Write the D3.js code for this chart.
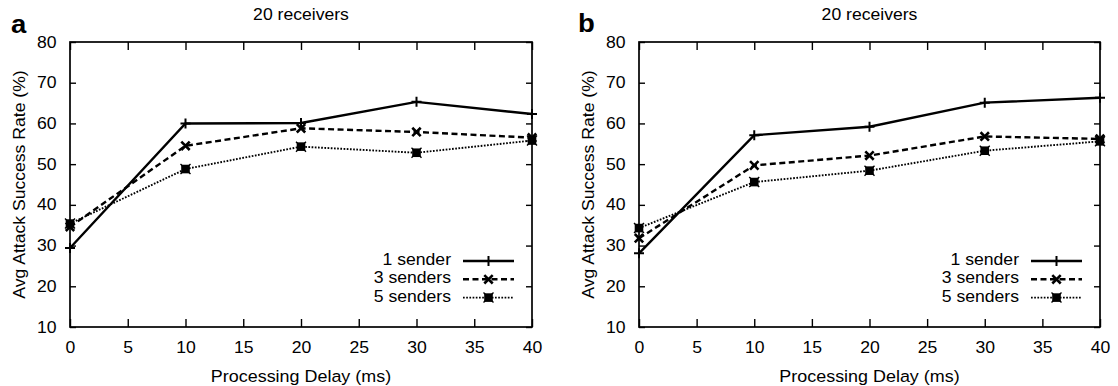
<!DOCTYPE html>
<html><head><meta charset="utf-8">
<script src="https://cdn.jsdelivr.net/npm/d3@7"></script>
<style>
body{margin:0;background:#fff}
text{font-family:"Liberation Sans",Arial,Helvetica,sans-serif;fill:#000}
</style>
</head><body>
<svg id="c" width="1118" height="386"></svg>
<script>
// ---- data ----
const delays = [0, 10, 20, 30, 40];
const xTickValues = [0, 5, 10, 15, 20, 25, 30, 35, 40];
const yTickValues = [10, 20, 30, 40, 50, 60, 70, 80];
const seriesNames = ["1 sender", "3 senders", "5 senders"];
const panelLetters = ["a", "b"];
const panelTitles = ["20 receivers", "20 receivers"];
const xTitle = "Processing Delay (ms)";
const yTitle = "Avg Attack Success Rate (%)";
// panel a
const a1Sender = [29.4, 60.0, 60.1, 65.3, 62.3];
const a3Senders = [34.6, 54.5, 58.8, 57.9, 56.5];
const a5Senders = [35.4, 48.8, 54.3, 52.8, 55.8];
// panel b
const b1Sender = [28.1, 57.1, 59.2, 65.1, 66.3];
const b3Senders = [31.8, 49.7, 52.1, 56.8, 56.2];
const b5Senders = [34.3, 45.6, 48.4, 53.3, 55.6];

// ---- layout ----
const svg = d3.select("#c");
const plotTop = 42, plotBottom = 327;
const STRETCH = 1.1;
const panels = [
  {left: 70, right: 532, letter: panelLetters[0], title: panelTitles[0], letterX: 11, letterY: 33, series: [a1Sender, a3Senders, a5Senders]},
  {left: 639, right: 1100, letter: panelLetters[1], title: panelTitles[1], letterX: 578, letterY: 32, series: [b1Sender, b3Senders, b5Senders]}
];
const styles = [
  {width: 2.4, dash: null, marker: "plus"},
  {width: 2.4, dash: "6,3.5", marker: "x"},
  {width: 1.9, dash: "1.7,1.5", marker: "square"}
];

function stretch(sel) {
  sel.each(function() {
    const t = d3.select(this);
    const x = +(t.attr("x") || 0);
    const prev = t.attr("transform") || "";
    t.attr("transform", `${prev} translate(${x},0) scale(${STRETCH},1) translate(${-x},0)`);
  });
}

function drawMarker(g, type, cx, cy) {
  if (type === "plus") {
    g.append("path").attr("d", `M${cx-5},${cy}H${cx+5}M${cx},${cy-5}V${cy+5}`)
      .attr("stroke", "#000").attr("stroke-width", 2).attr("fill", "none");
  } else if (type === "x") {
    g.append("path").attr("d", `M${cx-4.2},${cy-4.2}L${cx+4.2},${cy+4.2}M${cx-4.2},${cy+4.2}L${cx+4.2},${cy-4.2}`)
      .attr("stroke", "#000").attr("stroke-width", 2.6).attr("fill", "none");
  } else {
    g.append("rect").attr("x", cx-4.3).attr("y", cy-4.3).attr("width", 8.6).attr("height", 8.6)
      .attr("fill", "#000");
    g.append("path").attr("d", `M${cx-5},${cy-5}L${cx+5},${cy+5}M${cx-5},${cy+5}L${cx+5},${cy-5}`)
      .attr("stroke", "#000").attr("stroke-width", 1.4).attr("fill", "none");
  }
}

panels.forEach(p => {
  const x = d3.scaleLinear().domain([0, 40]).range([p.left, p.right]);
  const y = d3.scaleLinear().domain([10, 80]).range([plotBottom, plotTop]);
  const g = svg.append("g");

  // axes (inward ticks, mirrored)
  const ax = g.append("g").attr("transform", `translate(0,${plotBottom})`)
    .call(d3.axisBottom(x).tickValues(xTickValues).tickSize(-8).tickSizeOuter(0).tickPadding(14.5).tickFormat(d3.format("d")));
  const at = g.append("g").attr("transform", `translate(0,${plotTop})`)
    .call(d3.axisTop(x).tickValues(xTickValues).tickSize(-8).tickSizeOuter(0).tickFormat(""));
  const ay = g.append("g").attr("transform", `translate(${p.left},0)`)
    .call(d3.axisLeft(y).tickValues(yTickValues).tickSize(-6).tickSizeOuter(0).tickPadding(13.5).tickFormat(d3.format("d")));
  const ar = g.append("g").attr("transform", `translate(${p.right},0)`)
    .call(d3.axisRight(y).tickValues(yTickValues).tickSize(-6).tickSizeOuter(0).tickFormat(""));
  [ax, at, ay, ar].forEach(a => {
    a.select(".domain").remove();
    a.selectAll(".tick line").attr("stroke", "#000").attr("stroke-width", 1.4);
    a.selectAll("text").attr("font-size", 16).attr("font-family", null).attr("fill", "#000");
  });
  stretch(ax.selectAll("text"));
  stretch(ay.selectAll("text"));

  g.append("rect").attr("x", p.left).attr("y", plotTop).attr("width", p.right - p.left).attr("height", plotBottom - plotTop)
    .attr("fill", "none").attr("stroke", "#000").attr("stroke-width", 1.7);

  // titles
  const tt = g.append("text").attr("x", (p.left + p.right) / 2).attr("y", 20)
    .attr("text-anchor", "middle").attr("font-size", 16).text(p.title);
  stretch(tt);
  const xt = g.append("text").attr("x", (p.left + p.right) / 2).attr("y", 382)
    .attr("text-anchor", "middle").attr("font-size", 16.3).text(xTitle);
  stretch(xt);
  g.append("text").attr("transform", `translate(${p.left - 45},${(plotTop + plotBottom) / 2}) rotate(-90) scale(${STRETCH},1)`)
    .attr("text-anchor", "middle").attr("font-size", 16).text(yTitle);
  const lt = g.append("text").attr("x", p.letterX).attr("y", p.letterY)
    .attr("font-size", 25).attr("font-weight", "bold").text(p.letter);
  stretch(lt);

  // series
  p.series.forEach((vals, i) => {
    const st = styles[i];
    const pts = delays.map((d, k) => [d, vals[k]]);
    const line = d3.line().x(d => x(d[0])).y(d => y(d[1]));
    g.append("path").datum(pts).attr("d", line).attr("fill", "none")
      .attr("stroke", "#000").attr("stroke-width", st.width)
      .attr("stroke-dasharray", st.dash);
    pts.forEach(d => drawMarker(g, st.marker, x(d[0]), y(d[1])));

    // legend
    const base = 265 + i * 18.3;
    const lx = g.append("text").attr("x", p.right - 81).attr("y", base)
      .attr("text-anchor", "end").attr("font-size", 16).text(seriesNames[i]);
    stretch(lx);
    g.append("line").attr("x1", p.right - 69).attr("x2", p.right - 18)
      .attr("y1", base - 4).attr("y2", base - 4)
      .attr("stroke", "#000").attr("stroke-width", st.width).attr("stroke-dasharray", st.dash);
    drawMarker(g, st.marker, p.right - 43.5, base - 4);
  });
});
</script>
</body></html>
